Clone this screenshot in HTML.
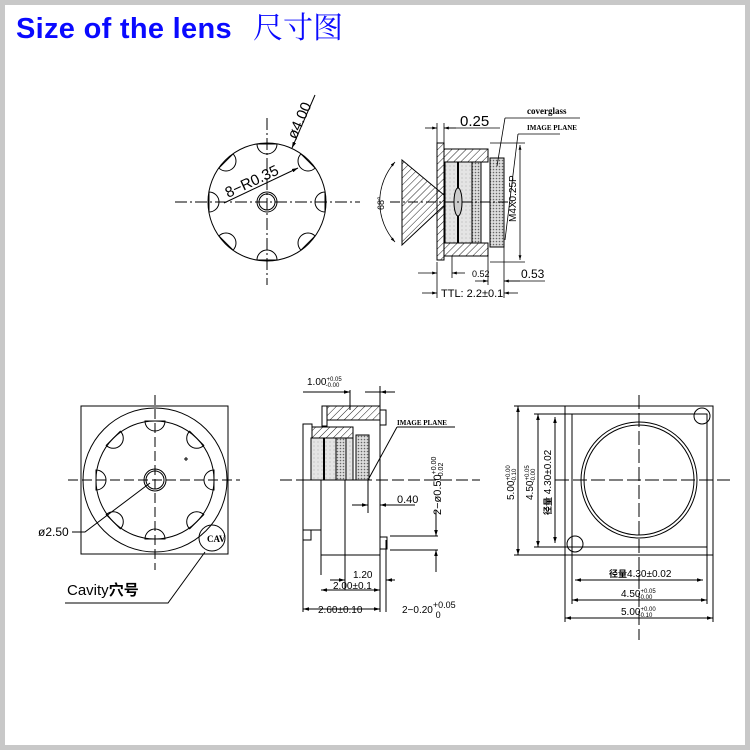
<!DOCTYPE html>
<html><head><meta charset="utf-8"><style>
html,body{margin:0;padding:0;background:#fff}
#w{position:relative;width:740px;height:740px;border:5px solid #c8c8c8;overflow:hidden}
svg{position:absolute;left:-5px;top:-5px}
</style></head><body><div id="w">
<svg width="750" height="750" viewBox="0 0 750 750" xmlns="http://www.w3.org/2000/svg" font-family="Liberation Sans, sans-serif">
<defs>
<pattern id="h" width="5" height="5" patternUnits="userSpaceOnUse" patternTransform="rotate(45)"><line x1="0" y1="0" x2="0" y2="5" stroke="#222" stroke-width="1"/></pattern>
<pattern id="d" width="3" height="3" patternUnits="userSpaceOnUse"><rect width="3" height="3" fill="#ddd"/><circle cx="1.5" cy="1.5" r="0.8" fill="#666"/></pattern>
<pattern id="g" width="4" height="4" patternUnits="userSpaceOnUse"><rect width="4" height="4" fill="#e4e4e4"/><circle cx="2" cy="2" r="0.5" fill="#999"/></pattern>
<marker id="a" viewBox="0 0 10 10" refX="10" refY="5" markerWidth="6" markerHeight="6" orient="auto-start-reverse"><path d="M0,2 L10,5 L0,8z" fill="#000"/></marker>
</defs>
<text x="16" y="38" font-size="29" font-weight="bold" fill="#0a0aff" letter-spacing="0.3">Size of the lens</text>
<text x="253" y="38" font-size="30" fill="#0a0aff" font-family="Liberation Serif, Noto Serif CJK SC, serif">尺寸图</text>

<g stroke="#000" fill="none" stroke-width="1">
<line x1="175" y1="202" x2="360" y2="202" stroke-dasharray="12,3,2,3"/>
<line x1="267" y1="118" x2="267" y2="285" stroke-dasharray="12,3,2,3"/>
<circle cx="267" cy="202" r="59"/>
<circle cx="267" cy="202" r="10"/><circle cx="267" cy="202" r="8"/>
<g id="n1">
<path d="M257,144 A10,10 0 0 0 277,144 Z"/>
</g>
<use href="#n1" transform="rotate(45 267 202)"/><use href="#n1" transform="rotate(90 267 202)"/><use href="#n1" transform="rotate(135 267 202)"/><use href="#n1" transform="rotate(180 267 202)"/><use href="#n1" transform="rotate(225 267 202)"/><use href="#n1" transform="rotate(270 267 202)"/><use href="#n1" transform="rotate(315 267 202)"/>
<line x1="224" y1="203" x2="298" y2="168" marker-end="url(#a)"/>
<line x1="315" y1="95" x2="292" y2="148" marker-end="url(#a)"/>
</g>
<text transform="translate(228,198) rotate(-25)" font-size="15">8−R0.35</text>
<text transform="translate(296,140) rotate(-66)" font-size="15">ø4.00</text>

<g stroke="#000" stroke-width="1">
<polygon points="402,160 450,200 402,245" fill="url(#h)"/>
<rect x="437" y="143" width="7" height="117" fill="url(#h)"/>
<rect x="444" y="149" width="44" height="13" fill="url(#h)"/>
<rect x="444" y="243" width="44" height="13" fill="url(#h)"/>
<rect x="445" y="162" width="36" height="81" fill="url(#g)"/>
<rect x="472" y="162" width="9" height="81" fill="url(#d)"/>
<line x1="458" y1="162" x2="458" y2="243" stroke-width="2"/>
<ellipse cx="458" cy="202" rx="4" ry="14" fill="#ccc"/>
<rect x="490" y="158" width="14" height="89" fill="url(#d)"/>
<line x1="390" y1="202" x2="515" y2="202" stroke-dasharray="10,3,2,3" fill="none"/>
</g>
<g stroke="#000" fill="none" stroke-width="0.8">
<path d="M395,162 A60,60 0 0 0 395,242" marker-start="url(#a)" marker-end="url(#a)"/>
<line x1="437" y1="123" x2="437" y2="143"/><line x1="444" y1="123" x2="444" y2="143"/>
<line x1="425" y1="128" x2="437" y2="128" marker-end="url(#a)"/><line x1="456" y1="128" x2="444" y2="128" marker-end="url(#a)"/><line x1="444" y1="128" x2="500" y2="128"/>
<line x1="490" y1="143" x2="525" y2="143"/><line x1="490" y1="262" x2="525" y2="262"/>
<line x1="520" y1="145" x2="520" y2="260" marker-start="url(#a)" marker-end="url(#a)"/>
<line x1="505" y1="118" x2="580" y2="118"/><line x1="505" y1="118" x2="497" y2="166"/>
<line x1="518" y1="134" x2="560" y2="134"/><line x1="518" y1="134" x2="505" y2="240"/>
<line x1="437" y1="262" x2="437" y2="298"/><line x1="452" y1="256" x2="452" y2="278"/><line x1="488" y1="256" x2="488" y2="285"/><line x1="504" y1="247" x2="504" y2="298"/>
<line x1="418" y1="273" x2="437" y2="273" marker-end="url(#a)"/>
<line x1="465" y1="273" x2="452" y2="273" marker-end="url(#a)"/>
<line x1="475" y1="281" x2="488" y2="281" marker-end="url(#a)"/>
<line x1="520" y1="281" x2="504" y2="281" marker-end="url(#a)"/>
<line x1="504" y1="281" x2="545" y2="281"/>
<line x1="422" y1="293" x2="437" y2="293" marker-end="url(#a)"/>
<line x1="518" y1="293" x2="504" y2="293" marker-end="url(#a)"/>
</g>
<text x="460" y="126" font-size="15">0.25</text>
<text x="527" y="114" font-size="9" font-weight="bold" font-family="Liberation Serif, serif">coverglass</text>
<text x="527" y="130" font-size="7" font-weight="bold" font-family="Liberation Serif, serif">IMAGE PLANE</text>
<text transform="translate(384,210) rotate(-90)" font-size="9">68°</text>
<text transform="translate(516,222) rotate(-90)" font-size="10">M4X0.25P</text>
<text x="472" y="277" font-size="9">0.52</text>
<text x="521" y="278" font-size="12">0.53</text>
<text x="441" y="297" font-size="11">TTL: 2.2±0.1</text>

<g stroke="#000" fill="none" stroke-width="1">
<rect x="81" y="406" width="147" height="148"/>
<circle cx="155" cy="480" r="72"/>
<circle cx="155" cy="480" r="59"/>
<circle cx="155" cy="480" r="11"/><circle cx="155" cy="480" r="9"/>
<line x1="68" y1="480" x2="240" y2="480" stroke-dasharray="10,4"/>
<line x1="155" y1="395" x2="155" y2="570" stroke-dasharray="10,4"/>
<g id="n2"><path d="M145,421 A10,10 0 0 0 165,421 Z"/></g>
<use href="#n2" transform="rotate(45 155 480)"/><use href="#n2" transform="rotate(90 155 480)"/><use href="#n2" transform="rotate(135 155 480)"/><use href="#n2" transform="rotate(180 155 480)"/><use href="#n2" transform="rotate(225 155 480)"/><use href="#n2" transform="rotate(270 155 480)"/><use href="#n2" transform="rotate(315 155 480)"/>
<line x1="184" y1="459" x2="188" y2="459"/><line x1="186" y1="457" x2="186" y2="461"/>
<circle cx="212" cy="538" r="13"/>
<path d="M72,532 L85,532 L150,483"/>
<path d="M205,552 L168,603 L65,603"/>
</g>
<text x="207" y="542" font-size="9" font-weight="bold" font-family="Liberation Serif, serif">CAV</text>
<text x="38" y="536" font-size="12">ø2.50</text>
<text x="67" y="595" font-size="15">Cavity<tspan font-weight="bold" font-family="Noto Sans CJK SC, sans-serif">穴号</tspan></text>

<g stroke="#000" stroke-width="1">
<rect x="327" y="406" width="53" height="14" fill="url(#h)"/>
<rect x="322" y="406" width="5" height="20" fill="#fff"/>
<rect x="380" y="410" width="6" height="15" fill="#fff"/>
<rect x="312" y="427" width="41" height="11" fill="url(#h)"/>
<rect x="303" y="424" width="9" height="56" fill="#fff"/>
<rect x="311" y="438" width="42" height="42" fill="url(#g)"/>
<rect x="336" y="438" width="10" height="42" fill="url(#d)"/>
<rect x="356" y="435" width="13" height="45" fill="url(#d)"/>
<line x1="324" y1="438" x2="324" y2="480" stroke-width="2"/>
</g>
<g stroke="#000" fill="none" stroke-width="1">
<line x1="280" y1="480" x2="480" y2="480" stroke-dasharray="12,4"/>
<line x1="303" y1="480" x2="303" y2="612"/>
<line x1="321" y1="480" x2="321" y2="575"/>
<line x1="345" y1="480" x2="345" y2="590"/>
<line x1="380" y1="425" x2="380" y2="612"/>
<line x1="321" y1="555" x2="380" y2="555"/>
<line x1="303" y1="530" x2="321" y2="530"/>
<rect x="303" y="530" width="8" height="10"/>
<rect x="380" y="537" width="7" height="12"/>
<line x1="386" y1="540" x2="386" y2="612"/>
<line x1="350" y1="390" x2="350" y2="410"/><line x1="380" y1="386" x2="380" y2="406"/>
<line x1="303" y1="392" x2="350" y2="392"/>
<line x1="365" y1="392" x2="380" y2="392"/>
<line x1="328" y1="392" x2="350" y2="392" marker-end="url(#a)"/>
<line x1="395" y1="392" x2="380" y2="392" marker-end="url(#a)"/>
<line x1="397" y1="427" x2="455" y2="427"/><line x1="397" y1="427" x2="368" y2="480"/>
<line x1="368" y1="480" x2="368" y2="513"/>
<line x1="352" y1="505" x2="368" y2="505" marker-end="url(#a)"/>
<line x1="415" y1="505" x2="380" y2="505" marker-end="url(#a)"/>
<line x1="390" y1="536" x2="438" y2="536"/><line x1="390" y1="550" x2="438" y2="550"/>
<line x1="436" y1="510" x2="436" y2="536" marker-end="url(#a)"/>
<line x1="436" y1="572" x2="436" y2="550" marker-end="url(#a)"/>
<line x1="330" y1="580" x2="345" y2="580" marker-end="url(#a)"/>
<line x1="395" y1="580" x2="386" y2="580" marker-end="url(#a)"/>
<line x1="321" y1="590" x2="380" y2="590" marker-start="url(#a)" marker-end="url(#a)"/>
<line x1="303" y1="609" x2="380" y2="609" marker-start="url(#a)" marker-end="url(#a)"/>
</g>
<text x="307" y="385" font-size="10">1.00<tspan font-size="6" dy="-4">+0.05</tspan><tspan font-size="6" dx="-16" dy="6">-0.00</tspan></text>
<text x="397" y="425" font-size="7" font-weight="bold" font-family="Liberation Serif, serif">IMAGE PLANE</text>
<text x="397" y="503" font-size="11">0.40</text>
<text transform="translate(441,515) rotate(-90)" font-size="11">2−ø0.50<tspan font-size="7" dy="-5">+0.00</tspan><tspan font-size="7" dx="-22" dy="7">-0.02</tspan></text>
<text x="353" y="578" font-size="10">1.20</text>
<text x="333" y="589" font-size="10">2.00±0.1</text>
<text x="318" y="613" font-size="10">2.60±0.10</text>
<text x="402" y="613" font-size="10">2−0.20<tspan font-size="9" dy="-5">+0.05</tspan><tspan font-size="9" dx="-20" dy="10">0</tspan></text>

<g stroke="#000" fill="none" stroke-width="1">
<rect x="565" y="406" width="148" height="149"/>
<rect x="572" y="414" width="135" height="133"/>
<circle cx="639" cy="480" r="58"/><circle cx="639" cy="480" r="55"/>
<circle cx="702" cy="416" r="8"/><circle cx="575" cy="544" r="8"/>
<line x1="555" y1="480" x2="730" y2="480" stroke-dasharray="14,4"/>
<line x1="639" y1="395" x2="639" y2="640" stroke-dasharray="14,4"/>
<line x1="514" y1="406" x2="565" y2="406"/><line x1="514" y1="555" x2="565" y2="555"/>
<line x1="534" y1="414" x2="572" y2="414"/><line x1="534" y1="547" x2="572" y2="547"/>
<line x1="518" y1="406" x2="518" y2="555" marker-start="url(#a)" marker-end="url(#a)"/>
<line x1="538" y1="414" x2="538" y2="547" marker-start="url(#a)" marker-end="url(#a)"/>
<line x1="555" y1="417" x2="555" y2="543" marker-start="url(#a)" marker-end="url(#a)"/>
<line x1="565" y1="555" x2="565" y2="622"/><line x1="713" y1="555" x2="713" y2="622"/>
<line x1="572" y1="547" x2="572" y2="604"/><line x1="707" y1="547" x2="707" y2="604"/>
<line x1="575" y1="580" x2="703" y2="580" marker-start="url(#a)" marker-end="url(#a)"/>
<line x1="572" y1="600" x2="707" y2="600" marker-start="url(#a)" marker-end="url(#a)"/>
<line x1="565" y1="618" x2="713" y2="618" marker-start="url(#a)" marker-end="url(#a)"/>
</g>
<text transform="translate(514,500) rotate(-90)" font-size="10">5.00<tspan font-size="6" dy="-4">+0.00</tspan><tspan font-size="6" dx="-17" dy="6">-0.10</tspan></text>
<text transform="translate(533,500) rotate(-90)" font-size="10">4.50<tspan font-size="6" dy="-4">+0.05</tspan><tspan font-size="6" dx="-17" dy="6">-0.00</tspan></text>
<text transform="translate(551,515) rotate(-90)" font-size="10"><tspan font-weight="bold" font-family="Noto Sans CJK SC, sans-serif" font-size="9">径量</tspan> 4.30±0.02</text>
<text x="609" y="577" font-size="10"><tspan font-weight="bold" font-family="Noto Sans CJK SC, sans-serif" font-size="9">径量</tspan>4.30±0.02</text>
<text x="621" y="597" font-size="10">4.50<tspan font-size="6" dy="-4">+0.05</tspan><tspan font-size="6" dx="-17" dy="6">-0.00</tspan></text>
<text x="621" y="615" font-size="10">5.00<tspan font-size="6" dy="-4">+0.00</tspan><tspan font-size="6" dx="-17" dy="6">-0.10</tspan></text>
</svg></div></body></html>
